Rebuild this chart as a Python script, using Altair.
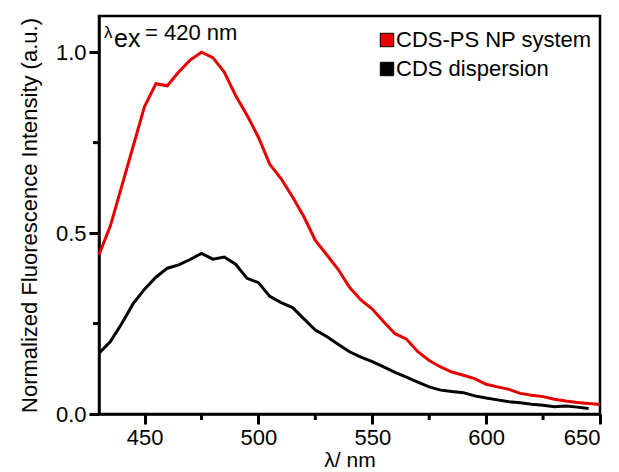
import altair as alt
import pandas as pd

# ---- data ----
wl_red = [430, 435, 440, 445, 450, 455, 460, 465, 470, 475, 480, 485, 490, 495,
          500, 505, 510, 515, 520, 525, 530, 535, 540, 545, 550, 555, 560, 565,
          570, 575, 580, 585, 590, 595, 600, 605, 610, 615, 620, 625, 630, 635,
          640, 645, 650]
red = [0.44, 0.52, 0.63, 0.74, 0.85, 0.913, 0.907, 0.945, 0.978, 1.0, 0.985,
       0.945, 0.88, 0.826, 0.765, 0.69, 0.65, 0.60, 0.545, 0.48, 0.44, 0.40,
       0.35, 0.315, 0.29, 0.255, 0.222, 0.207, 0.172, 0.148, 0.13, 0.116,
       0.107, 0.098, 0.082, 0.075, 0.068, 0.057, 0.052, 0.048, 0.041, 0.036,
       0.032, 0.029, 0.026]

wl_black = [430, 435, 440, 445, 450, 455, 460, 465, 470, 475, 480, 485, 490,
            495, 500, 505, 510, 515, 520, 525, 530, 535, 540, 545, 550, 555,
            560, 565, 570, 575, 580, 585, 590, 595, 600, 605, 610, 615, 620,
            625, 630, 635, 640, 645]
black = [0.168, 0.20, 0.25, 0.305, 0.345, 0.378, 0.403, 0.412, 0.427, 0.444,
         0.428, 0.434, 0.414, 0.375, 0.363, 0.325, 0.308, 0.294, 0.263, 0.232,
         0.214, 0.193, 0.172, 0.157, 0.145, 0.13, 0.115, 0.102, 0.088, 0.075,
         0.066, 0.062, 0.059, 0.05, 0.044, 0.039, 0.034, 0.031, 0.027, 0.024,
         0.02, 0.022, 0.019, 0.015]

series_names = ["CDS-PS NP system", "CDS dispersion"]
series_colors = ["#e60000", "#000000"]

x_major = [450, 500, 550, 600, 650]
x_minor = [475, 525, 575, 625]
y_major = [0.0, 0.5, 1.0]
y_minor = [0.25, 0.75]

FONT = "Liberation Sans"
X_DOMAIN = [430, 650]
Y_DOMAIN = [0, 1.1]

df = pd.concat([
    pd.DataFrame({"wl": wl_red, "val": red, "series": series_names[0]}),
    pd.DataFrame({"wl": wl_black, "val": black, "series": series_names[1]}),
])
legend_df = pd.DataFrame({"series": series_names})

x_scale = alt.Scale(domain=X_DOMAIN, nice=False, zero=False)
y_scale = alt.Scale(domain=Y_DOMAIN, nice=False)
series_scale = alt.Scale(domain=series_names, range=series_colors)
legend_row = alt.Scale(type="point", domain=series_names, range=[24, 53], padding=0)

x_axis = alt.Axis(
    values=x_major, format="d", ticks=True, tickSize=10,
    title="λ/ nm", grid=False,
    labelFont=FONT, labelFontSize=22, labelColor="black", labelPadding=3,
    titleFont=FONT, titleFontSize=21, titleFontWeight="normal", titleColor="black",
    titlePadding=1,
    domainColor="black", domainWidth=2.5, tickColor="black", tickWidth=3,
)
y_axis = alt.Axis(
    values=y_major, format=".1f", ticks=True, tickSize=10,
    title="Normalized Fluorescence Intensity (a.u.)", grid=False,
    labelFont=FONT, labelFontSize=22, labelColor="black", labelPadding=3,
    titleFont=FONT, titleFontSize=22, titleFontWeight="normal", titleColor="black",
    titlePadding=14,
    domainColor="black", domainWidth=2.5, tickColor="black", tickWidth=3,
)

lines = alt.Chart(df).mark_line(strokeWidth=3).encode(
    x=alt.X("wl:Q", scale=x_scale, axis=x_axis),
    y=alt.Y("val:Q", scale=y_scale, axis=y_axis),
    color=alt.Color("series:N", scale=series_scale, sort=series_names, legend=None),
)

# minor ticks, placed through the chart's own scales
x_minor_ticks = alt.Chart(pd.DataFrame({"v": x_minor})).mark_rule(
    color="black", strokeWidth=3
).encode(x=alt.X("v:Q", scale=x_scale), y=alt.value(398), y2=alt.value(404))
y_minor_ticks = alt.Chart(pd.DataFrame({"v": y_minor})).mark_rule(
    color="black", strokeWidth=3
).encode(y=alt.Y("v:Q", scale=y_scale, axis=None), x=alt.value(-6), x2=alt.value(0))

# legend drawn from the series list (filled squares with black outline)
legend_sq = alt.Chart(legend_df).mark_square(
    size=180, filled=True, opacity=1, stroke="black", strokeWidth=1
).encode(
    x=alt.value(288),
    y=alt.Y("series:N", scale=legend_row, axis=None),
    fill=alt.Fill("series:N", scale=series_scale, legend=None),
)
legend_txt = alt.Chart(legend_df).mark_text(
    font=FONT, fontSize=22, align="left", baseline="middle", color="black"
).encode(
    x=alt.value(297),
    y=alt.Y("series:N", scale=legend_row, axis=None),
    text="series:N",
)

lam = alt.Chart(pd.DataFrame({"t": ["λ"]})).mark_text(
    font=FONT, fontSize=17, align="left", baseline="alphabetic", color="black"
).encode(text="t:N", x=alt.value(5), y=alt.value(22))
ex = alt.Chart(pd.DataFrame({"t": ["ex"]})).mark_text(
    font=FONT, fontSize=25, align="left", baseline="alphabetic", color="black"
).encode(text="t:N", x=alt.value(15), y=alt.value(31))
eq = alt.Chart(pd.DataFrame({"t": ["= 420 nm"]})).mark_text(
    font=FONT, fontSize=22, align="left", baseline="alphabetic", color="black"
).encode(text="t:N", x=alt.value(46), y=alt.value(24))

chart = alt.layer(
    lines, x_minor_ticks, y_minor_ticks, legend_sq, legend_txt, lam, ex, eq
).resolve_scale(y="independent").properties(
    width=501, height=398,
    autosize=alt.AutoSizeParams(type="none"),
    padding={"left": 91, "top": 8, "right": 10, "bottom": 56},
    background="white",
).configure_view(stroke="black", strokeWidth=2.5)

chart.save("out.html", embed_options={"renderer": "svg", "actions": False})
